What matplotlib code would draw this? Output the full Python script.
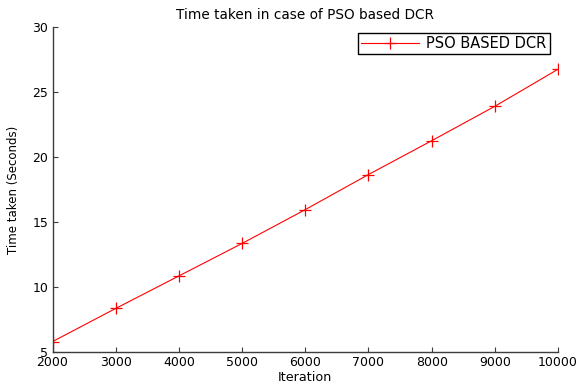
import matplotlib
matplotlib.use('Agg')
import matplotlib.pyplot as plt

# iterations vs time taken (seconds)
iterations = [2000, 3000, 4000, 5000, 6000, 7000, 8000, 9000, 10000]
time_taken = [5.8, 8.35, 10.85, 13.35, 15.95, 18.65, 21.25, 23.9, 26.75]
y_ticks = [5, 10, 15, 20, 25, 30]

plt.rcParams['font.family'] = ['DejaVu Sans']

fig = plt.figure(figsize=(5.78, 3.87), dpi=100)
# axes box placed like the original (pixels: left 52.5, right 558, top 27, bottom 352)
ax = fig.add_axes([52.5 / 578, 1 - 352 / 387, (558 - 52.5) / 578, (352 - 27) / 387])

ax.plot(iterations, time_taken, color='red', marker='+', markersize=8,
        linewidth=0.8, markeredgewidth=0.9, label='PSO BASED DCR')

ax.set_xlim(2000, 10000)
ax.set_ylim(5, 30)
ax.set_xticks(iterations)
ax.set_yticks(y_ticks)
ax.spines['top'].set_visible(False)
ax.spines['right'].set_visible(False)
for s in ['left', 'bottom']:
    ax.spines[s].set_color('#3c3c3c')
    ax.spines[s].set_linewidth(1.0)
ax.tick_params(direction='in', length=3.5, width=0.8, color='#3c3c3c',
               labelsize=9, top=False, right=False)
ax.tick_params(axis='x', pad=3)
ax.tick_params(axis='y', pad=3)
ax.set_xlabel('Iteration', fontsize=9.2, labelpad=1.5)
ax.set_ylabel('Time taken (Seconds)', fontsize=8.5, labelpad=9)
ax.set_title('Time taken in case of PSO based DCR', fontsize=9.8, pad=6)

leg = ax.legend(loc='upper right', bbox_to_anchor=(0.984, 0.9815), borderaxespad=0,
                fancybox=False, edgecolor='black', framealpha=1, fontsize=10.5,
                handlelength=4.0, handletextpad=0.5, borderpad=0.22)
leg.get_frame().set_linewidth(1.0)

fig.savefig('out.png', dpi=100)
